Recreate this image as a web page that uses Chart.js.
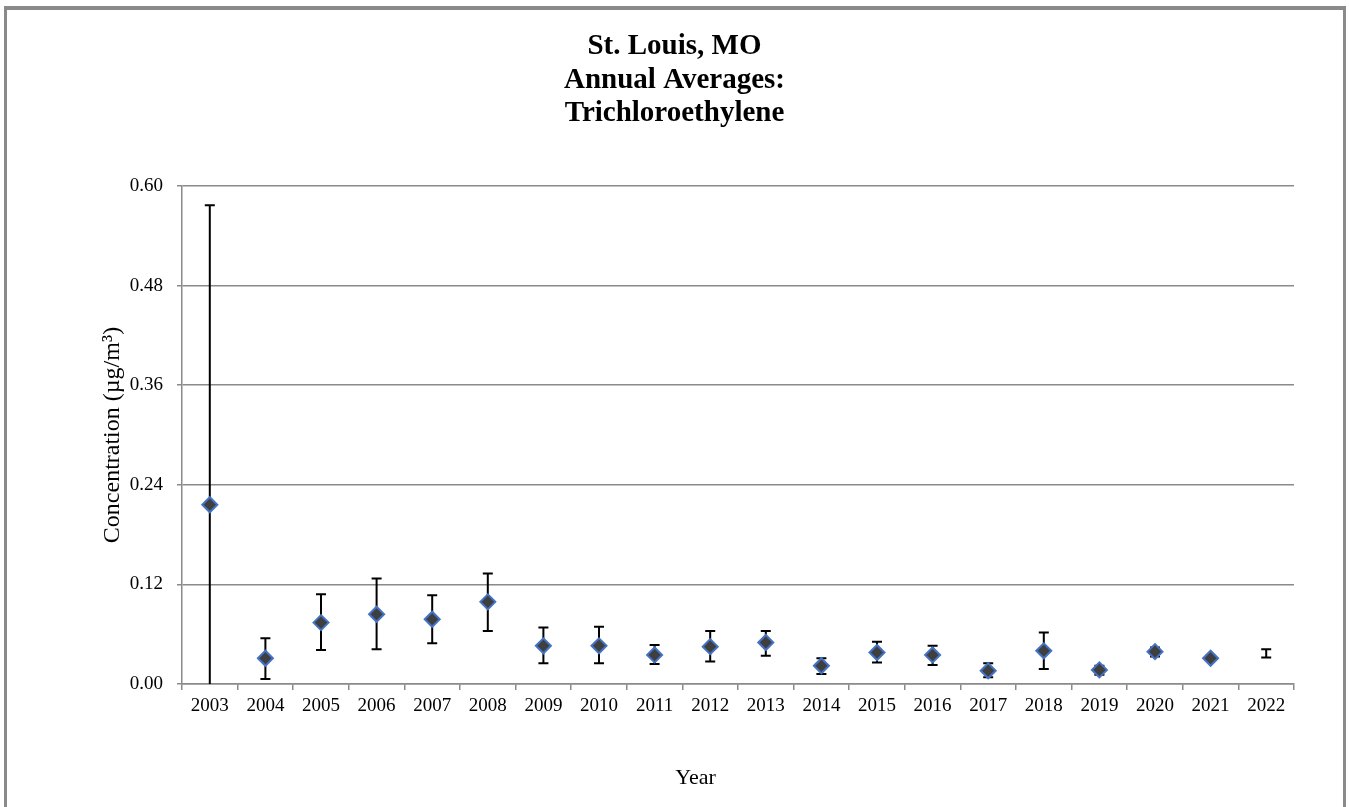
<!DOCTYPE html>
<html>
<head>
<meta charset="utf-8">
<script src="https://cdn.jsdelivr.net/npm/chart.js@4.4.0/dist/chart.umd.min.js"></script>
<style>
  body { margin: 0; background: #fff; overflow: hidden; }
  #wrap { position: relative; width: 1349px; height: 807px; }
  #frame { position: absolute; left: 4px; top: 6px; width: 1342px; height: 1000px;
           box-sizing: border-box; border: 3px solid #8a8a8a; border-top-width: 4px;
           pointer-events: none; }
</style>
</head>
<body>
<div id="wrap">
  <canvas id="mycanvas" width="1349" height="807"></canvas>
  <div id="frame"></div>
</div>
<script>
var years = ["2003","2004","2005","2006","2007","2008","2009","2010","2011","2012",
             "2013","2014","2015","2016","2017","2018","2019","2020","2021","2022"];
var average = [0.216, 0.031, 0.074, 0.084, 0.078, 0.099, 0.046, 0.046, 0.035, 0.045,
               0.050, 0.022, 0.038, 0.035, 0.016, 0.040, 0.017, 0.039, 0.031, null];
var lower = [-0.147, 0.006, 0.041, 0.042, 0.049, 0.064, 0.025, 0.025, 0.024, 0.027,
             0.034, 0.012, 0.026, 0.023, 0.008, 0.018, 0.011, 0.033, 0.028, 0.032];
var upper = [0.577, 0.055, 0.108, 0.127, 0.107, 0.133, 0.068, 0.069, 0.047, 0.064,
             0.064, 0.031, 0.051, 0.046, 0.025, 0.062, 0.022, 0.044, 0.034, 0.042];
var yTicks = [0, 0.12, 0.24, 0.36, 0.48, 0.60];

var serif = "'Liberation Serif', 'Times New Roman', serif";
Chart.defaults.font.family = serif;
Chart.defaults.color = "#000";

// whiskers with caps, drawn under the markers
var errorBars = {
    id: "errorBars",
    beforeDatasetsDraw: function(chart) {
        var ctx = chart.ctx;
        var x = chart.scales.x, y = chart.scales.y;
        var area = chart.chartArea;
        ctx.save();
        ctx.beginPath();
        ctx.rect(area.left, area.top, area.right - area.left, area.bottom - area.top);
        ctx.clip();
        ctx.strokeStyle = "#000";
        ctx.lineWidth = 2;
        for (var i = 0; i < years.length; i++) {
            var px = x.getPixelForValue(i);
            var top = y.getPixelForValue(upper[i]);
            var bot = y.getPixelForValue(lower[i]);
            ctx.beginPath();
            ctx.moveTo(px, top); ctx.lineTo(px, bot);
            ctx.moveTo(px - 5, top); ctx.lineTo(px + 5, top);
            ctx.moveTo(px - 5, bot); ctx.lineTo(px + 5, bot);
            ctx.stroke();
        }
        ctx.restore();
    }
};

// x axis title sits a little right of the canvas centre
var yearLabel = {
    id: "yearLabel",
    afterDraw: function(chart) {
        var ctx = chart.ctx;
        ctx.save();
        ctx.font = "22px " + serif;
        ctx.fillStyle = "#000";
        ctx.textAlign = "center";
        ctx.textBaseline = "middle";
        ctx.fillText("Year", chart.width / 2 + 21, chart.chartArea.bottom + 94);
        ctx.restore();
    }
};

var chartdata = {
    labels: years,
    datasets: [
        {
            label: "Trichloroethylene",
            data: average,
            showLine: false,
            pointStyle: "rectRot",
            pointRadius: 7.5,
            pointHoverRadius: 7.5,
            pointBorderWidth: 2,
            backgroundColor: "#3f3f3f",
            borderColor: "#4472c4"
        }
    ]
};

var ctx = document.getElementById("mycanvas");
var LineGraph = new Chart(ctx, {
    type: "line",
    data: chartdata,
    plugins: [errorBars, yearLabel],
    options: {
        responsive: false,
        animation: false,
        layout: { padding: { left: 55, right: 55, top: 0, bottom: 0 } },
        plugins: {
            legend: { display: false },
            tooltip: { enabled: false },
            title: {
                display: true,
                text: ["St. Louis, MO", "Annual Averages:", "Trichloroethylene"],
                font: { size: 29, weight: "bold", lineHeight: 1.15 },
                color: "#000",
                padding: { top: 30, bottom: 56 }
            }
        },
        scales: {
            x: {
                offset: true,
                grid: { offset: true, drawOnChartArea: false, tickLength: 6, color: "#8a8a8a", lineWidth: 1.5 },
                border: { color: "#8a8a8a", width: 1.5 },
                ticks: { font: { size: 19 }, padding: 5, maxRotation: 0, autoSkip: false },
                afterFit: function(scale) { scale.height = 123; }
            },
            y: {
                min: 0,
                max: 0.6,
                afterBuildTicks: function(scale) {
                    scale.ticks = yTicks.map(function(v) { return { value: v }; });
                },
                grid: { color: "#8a8a8a", lineWidth: 1.5, tickLength: 5 },
                border: { color: "#8a8a8a", width: 1.5 },
                ticks: {
                    font: { size: 19 },
                    padding: 14,
                    callback: function(v) { return Number(v).toFixed(2); }
                },
                title: {
                    display: true,
                    text: "Concentration (µg/m³)",
                    font: { size: 24 },
                    padding: { top: 43, bottom: 0 }
                },
                afterFit: function(scale) { scale.width = 127; }
            }
        }
    }
});
</script>
</body>
</html>
